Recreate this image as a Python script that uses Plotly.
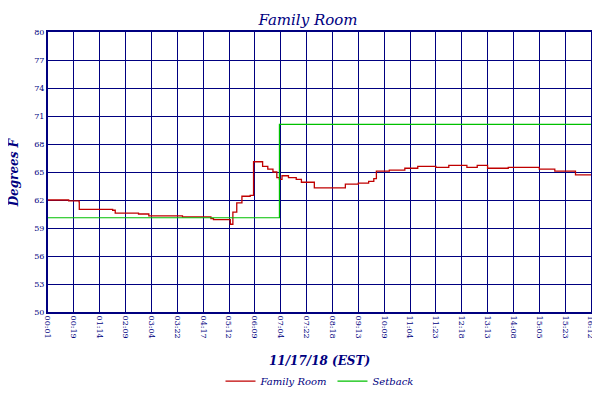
import plotly.graph_objects as go

# Etiquetas do eixo x (horários)
ticks = ['00:01', '00:19', '01:14', '02:09', '03:04', '03:22', '04:17', '05:12', '06:09', '07:04', '07:22',
         '08:18', '09:13', '10:09', '11:04', '11:23', '12:18', '13:13', '14:08', '15:05', '15:23', '16:12']

# Temperatura da sala (posição em índice de tick, graus F)
room_x = [0.0, 0.8, 1.2, 1.21, 2.5, 2.6, 3.5, 3.9, 4.8, 5.2, 6.3, 6.4, 7.0, 7.05, 7.15, 7.3, 7.5, 7.8,
          7.82, 7.95, 8.0, 8.3, 8.5, 8.7, 8.85, 8.95, 9.05, 9.3, 9.6, 9.8, 10.2, 10.3, 11.4, 11.5, 12.0, 12.4,
          12.6, 12.7, 13.2, 13.8, 14.3, 15.0, 15.5, 16.2, 16.6, 17.0, 17.8, 18.5, 19.0, 19.6, 20.2, 20.4, 21.0]
room_y = [62.0, 61.9, 61.8, 61.0, 60.9, 60.6, 60.5, 60.3, 60.3, 60.2, 60.0, 59.9, 59.9, 59.4, 60.7, 61.7,
          62.4, 62.4, 62.5, 66.1, 66.1, 65.6, 65.3, 65.0, 64.4, 64.2, 64.6, 64.4, 64.2, 63.9, 63.9, 63.3, 63.3,
          63.7, 63.8, 64.0, 64.3, 65.1, 65.2, 65.4, 65.6, 65.5, 65.7, 65.5, 65.7, 65.4, 65.5, 65.5, 65.3,
          65.1, 65.1, 64.7, 64.7]

# Setback
set_x = [0, 8.95, 8.95, 21]
set_y = [60.1, 60.1, 70.1, 70.1]

navy = '#000080'
fnt = 'DejaVu Serif'

fig = go.Figure()
fig.add_trace(go.Scatter(x=room_x, y=room_y, mode='lines', line=dict(color='#c00000', width=1.3),
                         line_shape='hv', name='<i>Family Room</i>'))
fig.add_trace(go.Scatter(x=set_x, y=set_y, mode='lines', line=dict(color='#00c000', width=1.2),
                         name='<i>Setback</i>'))
fig.add_trace(go.Scatter(x=[0], y=[50], yaxis='y2', mode='markers', marker=dict(opacity=0),
                         showlegend=False, hoverinfo='skip'))

fig.update_layout(
    width=600, height=400,
    margin=dict(l=40, r=17, t=24, b=76),
    plot_bgcolor='white', paper_bgcolor='white',
    title=dict(text='<i>Family Room</i>', x=0.5, y=0.985, yanchor='top',
               font=dict(family=fnt, size=15, color=navy)),
    xaxis=dict(range=[0, 21], tickvals=list(range(len(ticks))), ticktext=ticks, tickangle=90,
               showgrid=True, gridcolor=navy, gridwidth=1, linecolor=navy, linewidth=2, mirror=True,
               tickfont=dict(family=fnt, size=8, color=navy), ticks='', automargin=False),
    yaxis=dict(range=[50, 80], dtick=3, tick0=50, showgrid=True, gridcolor=navy, gridwidth=1,
               linecolor=navy, linewidth=2, mirror=True, ticks='', automargin=False,
               tickfont=dict(family=fnt, size=8, color=navy)),
    yaxis2=dict(range=[50, 80], dtick=3, tick0=50, overlaying='y', side='right', showgrid=False,
                tickfont=dict(family=fnt, size=8, color=navy), ticks='', automargin=False),
    legend=dict(orientation='h', x=0.5, xanchor='center', y=-0.195, yanchor='top',
                font=dict(family=fnt, size=10, color=navy)),
    showlegend=True,
    annotations=[
        dict(text='<i><b>11/17/18 (EST)</b></i>', xref='paper', yref='paper', x=0.5, y=-0.175,
             yanchor='middle', showarrow=False, font=dict(family=fnt, size=12, color=navy)),
        dict(text='<i><b>Degrees F</b></i>', xref='paper', yref='paper', x=-0.062, y=0.5,
             textangle=-90, xanchor='center', showarrow=False,
             font=dict(family=fnt, size=12, color=navy)),
    ],
)

fig.write_html("out.html")
